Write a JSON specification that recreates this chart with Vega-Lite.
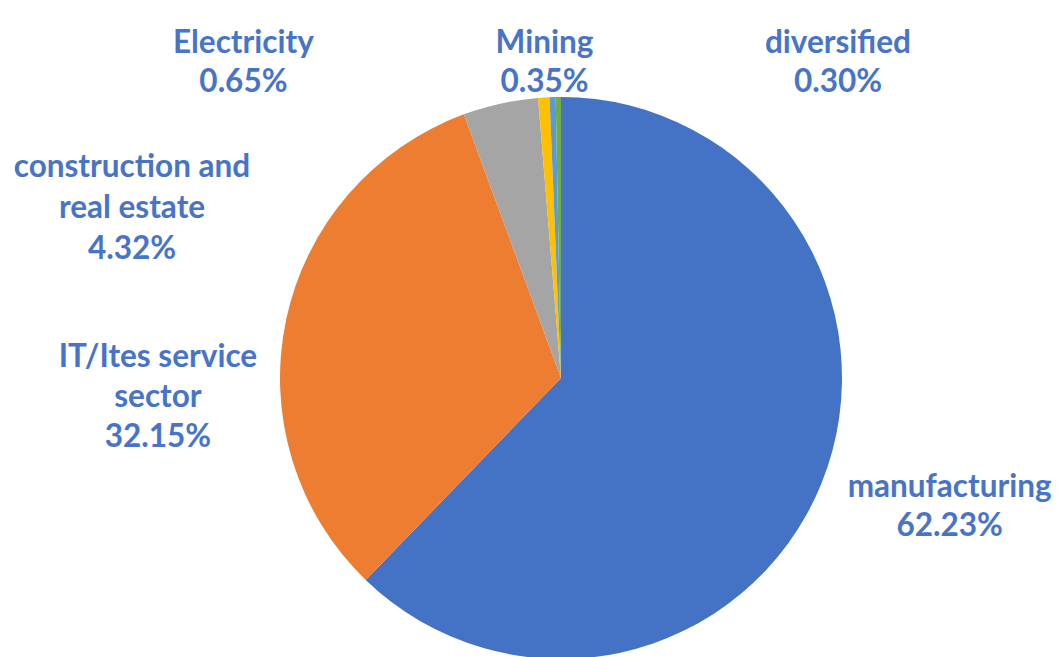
{
  "$schema": "https://vega.github.io/schema/vega-lite/v6.json",
  "width": 1006,
  "height": 558,
  "autosize": {"type": "none"},
  "padding": {"left": 58, "top": 99, "right": 0, "bottom": 0},
  "background": "white",
  "config": {"view": {"stroke": null}},
  "data": {
    "values": [
      {"idx": 1, "sector": "manufacturing", "share": 62.23, "label": ["manufacturing", "62.23%"]},
      {"idx": 2, "sector": "IT/Ites service sector", "share": 32.15, "label": ["IT/Ites service", "sector", "32.15%"]},
      {"idx": 3, "sector": "construction and real estate", "share": 4.32, "label": ["construction and", "real estate", "4.32%"]},
      {"idx": 4, "sector": "Electricity", "share": 0.65, "label": ["Electricity", "0.65%"]},
      {"idx": 5, "sector": "Mining", "share": 0.35, "label": ["Mining", "0.35%"]},
      {"idx": 6, "sector": "diversified", "share": 0.30, "label": ["diversified", "0.30%"]}
    ]
  },
  "encoding": {
    "theta": {"field": "share", "type": "quantitative", "stack": true},
    "order": {"field": "idx", "type": "quantitative"}
  },
  "layer": [
    {
      "mark": {"type": "arc", "outerRadius": 281},
      "encoding": {
        "color": {
          "field": "sector",
          "type": "nominal",
          "scale": {
            "domain": ["manufacturing", "IT/Ites service sector", "construction and real estate", "Electricity", "Mining", "diversified"],
            "range": ["#4472C4", "#ED7D31", "#A5A5A5", "#FFC000", "#5B9BD5", "#70AD47"]
          },
          "legend": null
        }
      }
    },
    {
      "mark": {"type": "text", "radius": 320, "dx": 92, "dy": -1, "font": "Lato", "fontWeight": "bold", "fontSize": 31.5, "lineHeight": 39, "align": "center", "baseline": "alphabetic", "fill": "#4774C8"},
      "encoding": {"text": {"condition": {"test": "datum.idx === 1", "field": "label"}, "value": ""}}
    },
    {
      "mark": {"type": "text", "radius": 320, "dx": -90, "dy": 55, "font": "Lato", "fontWeight": "bold", "fontSize": 31.5, "lineHeight": 40, "align": "center", "baseline": "alphabetic", "fill": "#4774C8"},
      "encoding": {"text": {"condition": {"test": "datum.idx === 2", "field": "label"}, "value": ""}}
    },
    {
      "mark": {"type": "text", "radius": 320, "dx": -360, "dy": 111, "font": "Lato", "fontWeight": "bold", "fontSize": 31.5, "lineHeight": 41, "align": "center", "baseline": "alphabetic", "fill": "#4774C8"},
      "encoding": {"text": {"condition": {"test": "datum.idx === 3", "field": "label"}, "value": ""}}
    },
    {
      "mark": {"type": "text", "radius": 320, "dx": -298, "dy": -6, "font": "Lato", "fontWeight": "bold", "fontSize": 31.5, "lineHeight": 39, "align": "center", "baseline": "alphabetic", "fill": "#4774C8"},
      "encoding": {"text": {"condition": {"test": "datum.idx === 4", "field": "label"}, "value": ""}}
    },
    {
      "mark": {"type": "text", "radius": 320, "dx": -7, "dy": -5, "font": "Lato", "fontWeight": "bold", "fontSize": 31.5, "lineHeight": 39, "align": "center", "baseline": "alphabetic", "fill": "#4774C8"},
      "encoding": {"text": {"condition": {"test": "datum.idx === 5", "field": "label"}, "value": ""}}
    },
    {
      "mark": {"type": "text", "radius": 320, "dx": 280, "dy": -5, "font": "Lato", "fontWeight": "bold", "fontSize": 31.5, "lineHeight": 39, "align": "center", "baseline": "alphabetic", "fill": "#4774C8"},
      "encoding": {"text": {"condition": {"test": "datum.idx === 6", "field": "label"}, "value": ""}}
    }
  ]
}
